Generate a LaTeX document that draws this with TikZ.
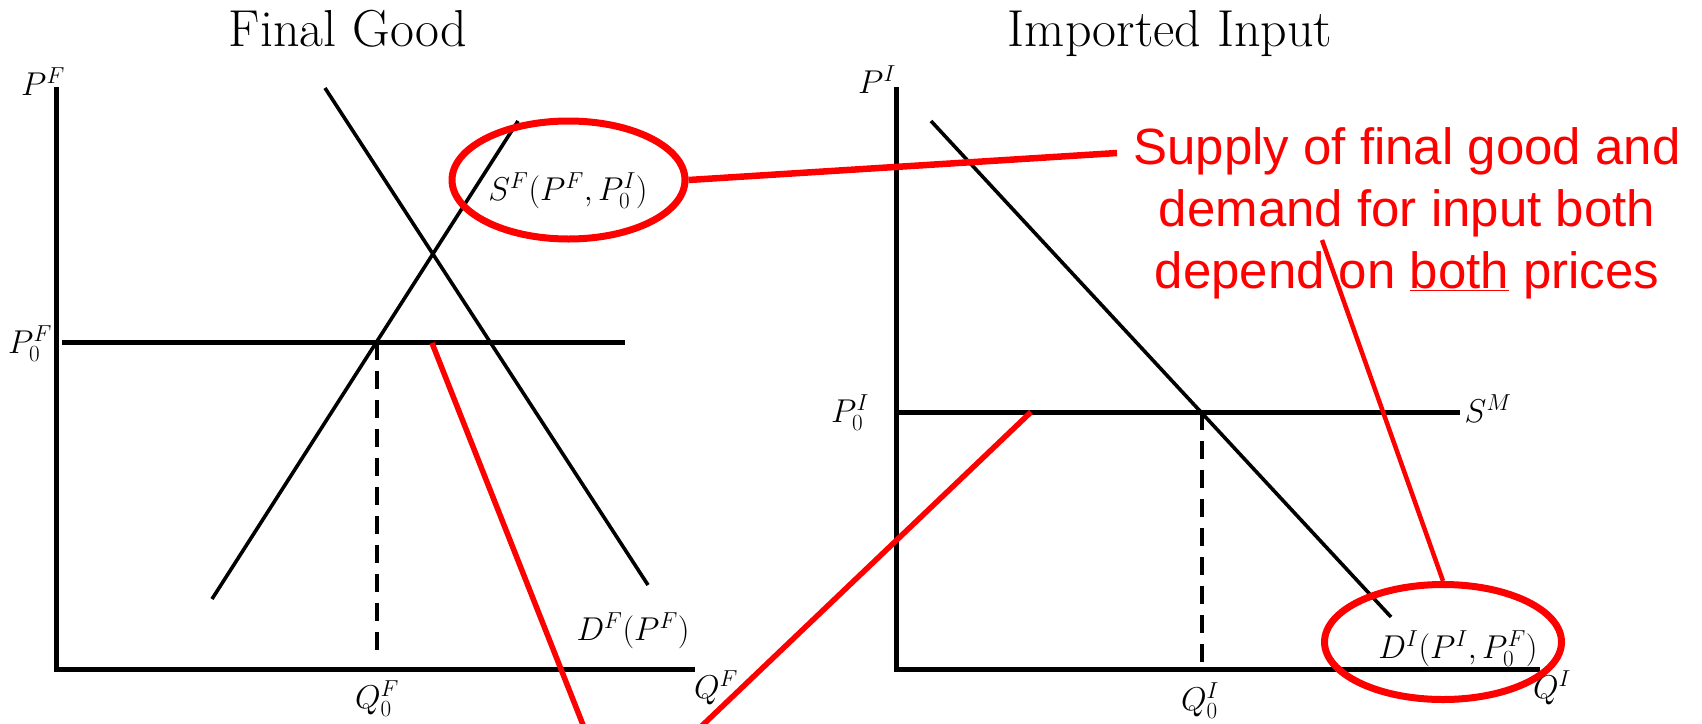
\RequirePackage{fix-cm}
\documentclass[tikz,border=0pt]{standalone}
\usepackage{fontspec}
\newfontfamily\arialf{Liberation Sans}
\usetikzlibrary{shapes.geometric}
\definecolor{rred}{RGB}{255,0,0}
\begin{document}
\begin{tikzpicture}[x=1pt,y=-1pt,
  axisline/.style={line width=5pt},
  curveline/.style={line width=3.6pt},
  dashline/.style={line width=4pt, dash pattern=on 18pt off 11pt},
  lab/.style={inner sep=0pt, anchor=base, font=\fontsize{33}{38}\selectfont},
  ttl/.style={inner sep=0pt, anchor=base, font=\fontsize{52}{60}\selectfont},
  callout/.style={draw=rred, line width=7pt, ellipse, inner sep=0pt},
  redline/.style={draw=rred, line width=5.5pt},
]
\useasboundingbox (0,0) rectangle (1702,723);
\clip (0,0) rectangle (1702,723);

% ---------- left panel ----------
\node[ttl] (t1) at (348,46) {Final Good};
\coordinate (O1) at (56,669);
\coordinate (Y1) at (56,87);
\coordinate (X1) at (695,669);
\coordinate (PFa) at (62,342);
\coordinate (PFb) at (625,342);
\coordinate (DFa) at (325,88);
\coordinate (DFb) at (648,585);
\coordinate (SFa) at (212,599);
\coordinate (SFb) at (518,121);
\coordinate (EF) at (376.5,342);
\coordinate (QF) at (376.5,657);

\draw[axisline] (Y1) -- (O1) -- (X1);
\draw[axisline] (PFa) -- (PFb);
\draw[curveline] (DFa) -- (DFb);
\draw[curveline] (SFa) -- (SFb);
\draw[dashline] (EF) -- (QF);

\node[lab] (lPF) at (43,95) {$P^F$};
\node[lab] (lP0F) at (30,353) {$P_0^F$};
\node[lab] (lQF) at (716,698) {$Q^F$};
\node[lab] (lQ0F) at (377,708) {$Q_0^F$};
\node[lab] (lDF) at (633,640) {$D^F(P^F)$};
\node[lab] (lSF) at (568,200) {$S^F(P^F,P_0^I)$};

% ---------- right panel ----------
\node[ttl] (t2) at (1170,46) {Imported Input};
\coordinate (O2) at (896,669);
\coordinate (Y2) at (896,87);
\coordinate (X2) at (1540,669);
\coordinate (SMa) at (896,412);
\coordinate (SMb) at (1460,412);
\coordinate (DIa) at (931,121);
\coordinate (DIb) at (1391,617);
\coordinate (EI) at (1202,412);
\coordinate (QI) at (1202,669);

\draw[axisline] (Y2) -- (O2) -- (X2);
\draw[axisline] (SMa) -- (SMb);
\draw[curveline] (DIa) -- (DIb);
\draw[dashline] (EI) -- (QI);

\node[lab] (lPI) at (877,93) {$P^I$};
\node[lab] (lP0I) at (850,422) {$P_0^I$};
\node[lab] (lSM) at (1488,422) {$S^M$};
\node[lab] (lQ0I) at (1200,710) {$Q_0^I$};
\node[lab] (lQI) at (1552,698) {$Q^I$};
\node[lab] (lDI) at (1458,658) {$D^I(P^I,P_0^F)$};

% ---------- red annotations ----------
\node[callout, minimum width=233pt, minimum height=118pt] (e1) at (568.5,180) {};
\node[callout, minimum width=237pt, minimum height=115pt] (e2) at (1443,642) {};

\node[text=rred, font=\arialf\fontsize{51}{62}\selectfont, align=center, inner sep=0pt] (txt) at (1407,213)
  {Supply of final good and\\demand for input both\\depend on \underline{both} prices};

\coordinate (c1) at (1117,153);
\coordinate (c4) at (1322,240);
\coordinate (r2a) at (432,343);
\coordinate (r2b) at (589,740);
\coordinate (r3a) at (1031,412);
\coordinate (r3b) at (687,740);

\draw[redline, line width=6.5pt] (e1.east) -- (c1);
\draw[redline] (r2a) -- (r2b);
\draw[redline] (r3a) -- (r3b);
\draw[redline, line width=4.5pt] (c4) -- (e2.north);
\end{tikzpicture}
\end{document}
